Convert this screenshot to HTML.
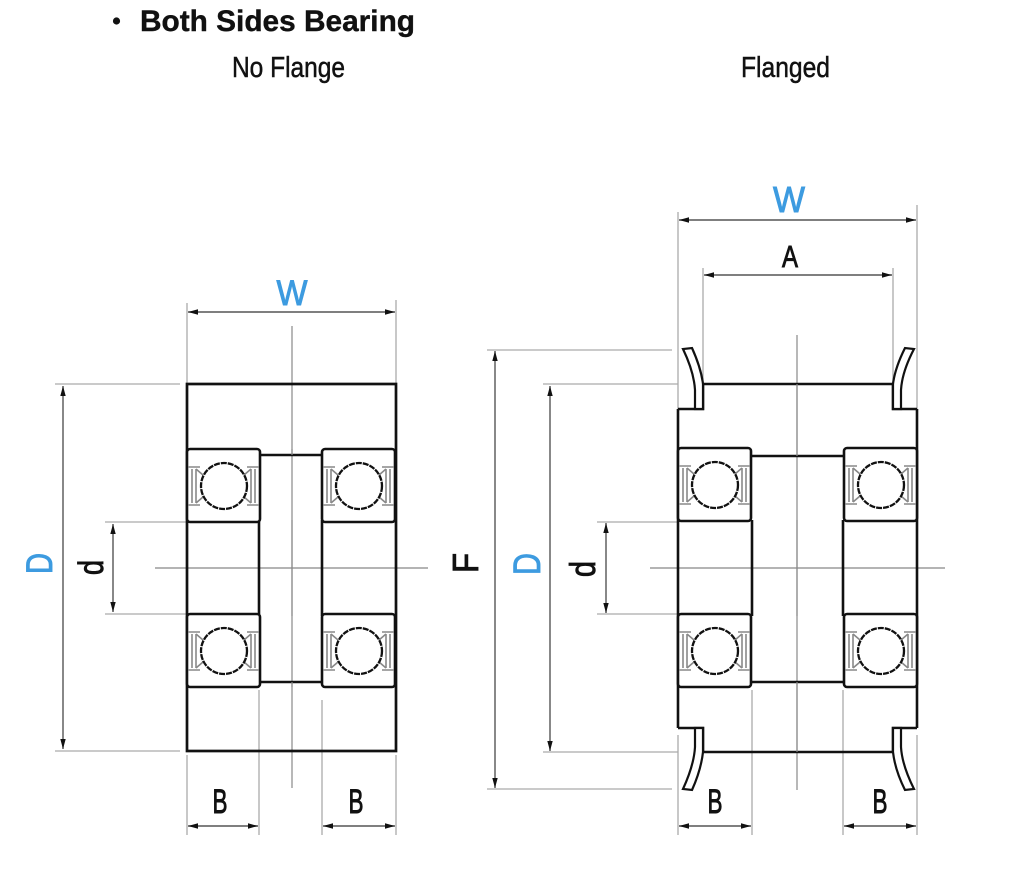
<!DOCTYPE html>
<html><head><meta charset="utf-8"><style>
html,body{margin:0;padding:0;background:#fff;}
svg{display:block;}
</style></head><body>
<svg width="1024" height="895" viewBox="0 0 1024 895" xmlns="http://www.w3.org/2000/svg">
<defs>
<marker id="ae" markerUnits="userSpaceOnUse" markerWidth="12" markerHeight="8" refX="10" refY="4" orient="auto">
<path d="M0,1.3 L10,4 L0,6.7 Z" fill="#111"/>
</marker>
<marker id="as" markerUnits="userSpaceOnUse" markerWidth="12" markerHeight="8" refX="0" refY="4" orient="auto">
<path d="M10,1.3 L0,4 L10,6.7 Z" fill="#111"/>
</marker>
<g id="brg">
<rect x="0" y="0" width="73" height="73" rx="3" fill="#fff" stroke="#111" stroke-width="2.6"/>
<g stroke="#888" stroke-width="1.6" fill="none">
<path d="M1,18 H13 M1,56 H13 M60,18 H72 M60,56 H72"/>
<path d="M5,20 V54 M9,20 V54 M64,20 V54 M68,20 V54"/>
<path d="M9,20 L16,26 M9,54 L16,48 M64,20 L57,26 M64,54 L57,48"/>
</g>
<circle cx="37" cy="37" r="23" fill="#fff" stroke="#111" stroke-width="2.3" stroke-dasharray="6 1"/>
</g>
</defs>

<!-- Title -->
<circle cx="116.5" cy="21" r="3.6" fill="#111"/>
<text x="140" y="31" font-family="Liberation Sans, Arial, sans-serif" font-size="30" font-weight="bold" fill="#111" stroke="#111" stroke-width="0.4" textLength="275" lengthAdjust="spacingAndGlyphs">Both Sides Bearing</text>
<text x="232" y="77" font-family="Liberation Sans, Arial, sans-serif" font-size="29" fill="#111" stroke="#111" stroke-width="0.5" textLength="113" lengthAdjust="spacingAndGlyphs">No Flange</text>
<text x="741" y="77" font-family="Liberation Sans, Arial, sans-serif" font-size="29" fill="#111" stroke="#111" stroke-width="0.5" textLength="89" lengthAdjust="spacingAndGlyphs">Flanged</text>

<!-- ============ LEFT DIAGRAM ============ -->
<g stroke="#aaa" stroke-width="1.3" fill="none">
<path d="M187,303 V384 M396,300 V384"/>
<path d="M55,384 H180 M55,751 H180"/>
<path d="M105,522 H187 M105,614 H187"/>
<path d="M187,755 V835 M259,690 V835 M322,700 V835 M396,755 V835"/>
</g>
<g stroke="#888" stroke-width="1.2">
<path d="M292,326 V788"/>
<path d="M155,568 H428"/>
</g>
<rect x="187" y="384" width="209" height="367" fill="none" stroke="#111" stroke-width="2.7"/>
<path d="M259,455 H322 M259,682 H322 M259,520 V616 M322,520 V616" stroke="#111" stroke-width="2.6" fill="none"/>
<use href="#brg" x="187" y="449"/>
<use href="#brg" x="322" y="449"/>
<use href="#brg" x="187" y="614"/>
<use href="#brg" x="322" y="614"/>
<path d="M292,449 V455 M292,520 V616 M292,682 V687" stroke="#888" stroke-width="1.2"/>
<g stroke="#555" stroke-width="1.4" fill="none">
<path d="M188,312 H395" marker-start="url(#as)" marker-end="url(#ae)"/>
<path d="M63,386 V749" marker-start="url(#as)" marker-end="url(#ae)"/>
<path d="M113,524 V612" marker-start="url(#as)" marker-end="url(#ae)"/>
<path d="M188,826 H258" marker-start="url(#as)" marker-end="url(#ae)"/>
<path d="M323,826 H395" marker-start="url(#as)" marker-end="url(#ae)"/>
</g>
<g font-family="Liberation Sans, Arial, sans-serif" text-anchor="middle">
<text x="292" y="305" font-size="35" fill="#3d9be0" stroke="#3d9be0" stroke-width="0.9" textLength="31" lengthAdjust="spacingAndGlyphs">W</text>
<text x="220" y="813" font-size="34" fill="#111" stroke="#111" stroke-width="0.9" textLength="15" lengthAdjust="spacingAndGlyphs">B</text>
<text x="356" y="813" font-size="34" fill="#111" stroke="#111" stroke-width="0.9" textLength="15" lengthAdjust="spacingAndGlyphs">B</text>
<text transform="translate(52,563.5) rotate(-90)" x="0" y="0" font-size="37" fill="#3d9be0" stroke="#3d9be0" stroke-width="0.9" textLength="21" lengthAdjust="spacingAndGlyphs">D</text>
<text transform="translate(103,567.5) rotate(-90)" x="0" y="0" font-size="35" fill="#111" stroke="#111" stroke-width="0.9" textLength="15" lengthAdjust="spacingAndGlyphs">d</text>
</g>

<!-- ============ RIGHT DIAGRAM ============ -->
<g stroke="#aaa" stroke-width="1.3" fill="none">
<path d="M678,212 V409 M917,205 V409"/>
<path d="M703,268 V384 M893,268 V384"/>
<path d="M487,350 H672 M487,789 H672"/>
<path d="M543,384 H678 M543,752 H678"/>
<path d="M597,522 H678 M597,614 H678"/>
<path d="M678,735 V835 M752,690 V835 M843,690 V835 M917,735 V835"/>
</g>
<g stroke="#888" stroke-width="1.2">
<path d="M797,335 V790"/>
<path d="M650,568 H945"/>
</g>
<g stroke="#111" stroke-width="2.6" fill="none">
<path d="M678,409 V728 M917,409 V728"/>
<path d="M678,409 H703 V384 H893 V409 H917"/>
<path d="M678,728 H703 V752 H893 V728 H917"/>
<path d="M752,456 H843 M752,682 H843 M752,520 V616 M843,520 V616"/>
</g>
<g stroke="#111" stroke-width="2.2" fill="#fff">
<path d="M695,409 L695,390 Q694,372 683,349 L692,348 Q701,368 703,384 L703,409 Z"/>
<path d="M901,409 L901,390 Q902,372 914,349 L905,348 Q895,368 893,384 L893,409 Z"/>
<path d="M695,728 L695,747 Q694,765 683,789 L692,790 Q701,770 703,752 L703,728 Z"/>
<path d="M901,728 L901,747 Q902,765 914,789 L905,790 Q895,770 893,752 L893,728 Z"/>
</g>
<use href="#brg" x="678" y="448"/>
<use href="#brg" x="844" y="448"/>
<use href="#brg" x="678" y="614"/>
<use href="#brg" x="844" y="614"/>
<path d="M797,384 V456 M797,520 V616 M797,682 V752" stroke="#888" stroke-width="1.2"/>
<g stroke="#555" stroke-width="1.4" fill="none">
<path d="M679,220 H916" marker-start="url(#as)" marker-end="url(#ae)"/>
<path d="M704,275 H892" marker-start="url(#as)" marker-end="url(#ae)"/>
<path d="M495,351 V788" marker-start="url(#as)" marker-end="url(#ae)"/>
<path d="M550,386 V751" marker-start="url(#as)" marker-end="url(#ae)"/>
<path d="M606,523 V613" marker-start="url(#as)" marker-end="url(#ae)"/>
<path d="M679,826 H751" marker-start="url(#as)" marker-end="url(#ae)"/>
<path d="M844,826 H916" marker-start="url(#as)" marker-end="url(#ae)"/>
</g>
<g font-family="Liberation Sans, Arial, sans-serif" text-anchor="middle">
<text x="789" y="212" font-size="36" fill="#3d9be0" stroke="#3d9be0" stroke-width="0.9" textLength="32" lengthAdjust="spacingAndGlyphs">W</text>
<text x="790" y="267" font-size="31" fill="#111" stroke="#111" stroke-width="0.9" textLength="16" lengthAdjust="spacingAndGlyphs">A</text>
<text x="715" y="813" font-size="34" fill="#111" stroke="#111" stroke-width="0.9" textLength="15" lengthAdjust="spacingAndGlyphs">B</text>
<text x="880" y="813" font-size="34" fill="#111" stroke="#111" stroke-width="0.9" textLength="15" lengthAdjust="spacingAndGlyphs">B</text>
<text transform="translate(478,563) rotate(-90)" x="0" y="0" font-size="36" fill="#111" stroke="#111" stroke-width="0.9" textLength="20" lengthAdjust="spacingAndGlyphs">F</text>
<text transform="translate(540,564) rotate(-90)" x="0" y="0" font-size="38" fill="#3d9be0" stroke="#3d9be0" stroke-width="0.9" textLength="22" lengthAdjust="spacingAndGlyphs">D</text>
<text transform="translate(595,569) rotate(-90)" x="0" y="0" font-size="36" fill="#111" stroke="#111" stroke-width="0.9" textLength="16" lengthAdjust="spacingAndGlyphs">d</text>
</g>
</svg>
</body></html>
